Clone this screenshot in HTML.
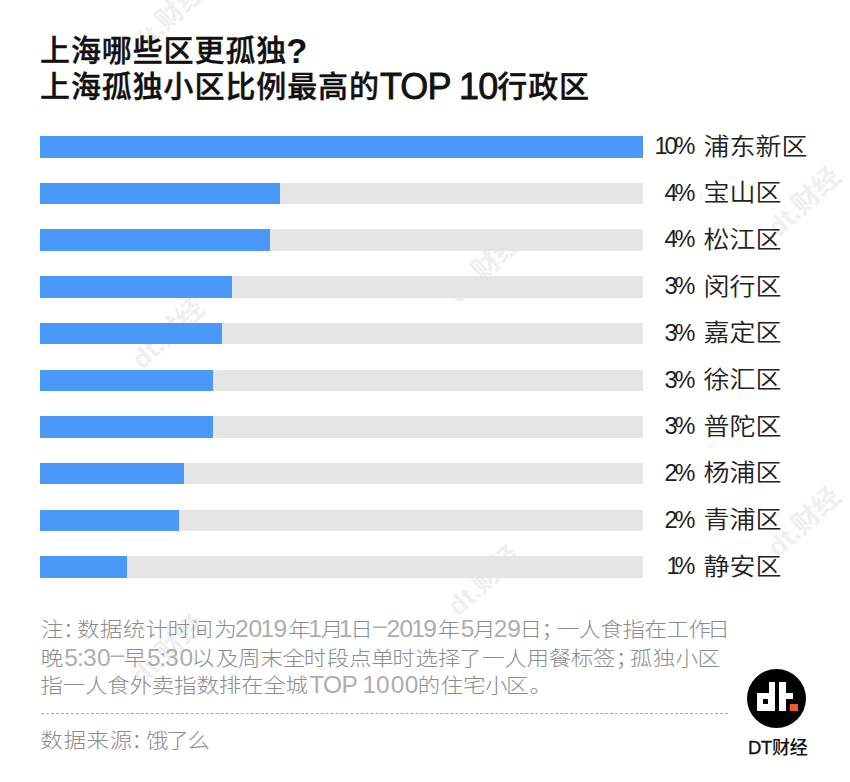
<!DOCTYPE html>
<html lang="zh-CN">
<head>
<meta charset="utf-8">
<title>上海哪些区更孤独?</title>
<style>
html,body{margin:0;padding:0;background:#fff;}
body{width:850px;height:782px;position:relative;overflow:hidden;}
.t{position:absolute;left:40px;font-family:"Liberation Sans","Noto Sans CJK SC",sans-serif;font-weight:500;font-size:30px;color:#111;white-space:nowrap;line-height:36px;height:36px;letter-spacing:0.9px;-webkit-text-stroke:0.4px #111;}
.t .l{font-size:36px;font-weight:400;-webkit-text-stroke:0.8px #111;letter-spacing:-0.9px;position:relative;top:1.5px;}
.t .q{font-size:34.5px;font-weight:700;-webkit-text-stroke:0;margin-left:-1px;position:relative;top:1.5px;}
.wm{position:absolute;width:140px;height:30px;margin:-15px 0 0 -70px;text-align:center;font-family:"Liberation Sans","Noto Sans CJK SC",sans-serif;font-weight:700;font-size:27px;line-height:30px;color:#efefef;white-space:nowrap;transform:rotate(-43deg);}
.row{position:absolute;left:40px;width:603px;height:21.5px;background:#e5e5e7;}
.row i{position:absolute;left:0;top:0;height:100%;background:#4a98f7;}
.lab{position:absolute;left:600px;width:220px;height:30px;font-family:"Liberation Sans","Noto Sans CJK SC",sans-serif;font-weight:300;color:#222;white-space:nowrap;line-height:30px;}
.lab b{font-weight:400;position:absolute;right:127.5px;top:0;font-size:23.5px;letter-spacing:-3px;color:#1e1e1e;}
.lab span{position:absolute;left:103.5px;top:0.5px;font-size:26px;font-weight:350;transform:scaleY(0.925);transform-origin:50% 50%;}
.fn{position:absolute;left:0;white-space:nowrap;line-height:27px;height:27px;font-family:"Liberation Sans","Noto Sans CJK SC",sans-serif;color:#8c8c8c;font-size:22.5px;font-weight:300;}
.fn .c{font-weight:300;font-size:22.5px;display:inline-block;transform:scaleY(0.92);transform-origin:50% 55%;}
.fn .l{font-weight:400;font-size:24.5px;color:#adadad;}
.dash{position:absolute;left:41px;top:713px;width:687px;height:0;border-top:1px dashed #aaa;}
.logo{position:absolute;left:747px;top:668.5px;width:59px;height:59px;border-radius:50%;background:#000;}
.logo div{position:absolute;background:#fff;}
.brand{position:absolute;left:748px;top:735.5px;font-family:"Liberation Sans","Noto Sans CJK SC",sans-serif;font-weight:500;font-size:18px;color:#111;white-space:nowrap;line-height:24px;letter-spacing:-0.2px;}
.brand .d{font-weight:400;font-size:18.4px;-webkit-text-stroke:0.35px #111;letter-spacing:-0.3px;}
</style>
</head>
<body>
<div class="wm" style="left:168px;top:18px">dt.财经</div>
<div class="wm" style="left:168px;top:334px">dt.财经</div>
<div class="wm" style="left:168px;top:650px">dt.财经</div>
<div class="wm" style="left:484px;top:268px">dt.财经</div>
<div class="wm" style="left:484px;top:581px">dt.财经</div>
<div class="wm" style="left:804px;top:202px">dt.财经</div>
<div class="wm" style="left:804px;top:522px">dt.财经</div>
<div class="t" style="top:31px">上海哪些区更孤独<span class="q">?</span></div>
<div class="t" style="top:67px">上海孤独小区比例最高的<span class="l" style="margin-left:0px">TOP 10</span>行政区</div>

<div class="row" style="top:136px"><i style="width:603px"></i></div>
<div class="row" style="top:182.7px"><i style="width:240px"></i></div>
<div class="row" style="top:229.4px"><i style="width:230px"></i></div>
<div class="row" style="top:276.1px"><i style="width:192px"></i></div>
<div class="row" style="top:322.8px"><i style="width:182px"></i></div>
<div class="row" style="top:369.5px"><i style="width:173px"></i></div>
<div class="row" style="top:416.2px"><i style="width:173px"></i></div>
<div class="row" style="top:462.9px"><i style="width:144px"></i></div>
<div class="row" style="top:509.6px"><i style="width:139px"></i></div>
<div class="row" style="top:556.3px"><i style="width:86.5px"></i></div>

<div class="lab" style="top:131px"><b>10%</b><span>浦东新区</span></div>
<div class="lab" style="top:177.7px"><b>4%</b><span>宝山区</span></div>
<div class="lab" style="top:224.4px"><b>4%</b><span>松江区</span></div>
<div class="lab" style="top:271.1px"><b>3%</b><span>闵行区</span></div>
<div class="lab" style="top:317.8px"><b>3%</b><span>嘉定区</span></div>
<div class="lab" style="top:364.5px"><b>3%</b><span>徐汇区</span></div>
<div class="lab" style="top:411.2px"><b>3%</b><span>普陀区</span></div>
<div class="lab" style="top:457.9px"><b>2%</b><span>杨浦区</span></div>
<div class="lab" style="top:504.6px"><b>2%</b><span>青浦区</span></div>
<div class="lab" style="top:551.3px"><b style="letter-spacing:-5px;right:129.5px">1%</b><span>静安区</span></div>

<div class="fn" style="top:614.5px"><span class="c" style="margin-left:41.00px">注</span><span class="c" style="margin-left:-0.72px">：</span><span class="c" style="margin-left:-8.42px">数</span><span class="c" style="margin-left:0.38px">据</span><span class="c" style="margin-left:0.38px">统</span><span class="c" style="margin-left:0.38px">计</span><span class="c" style="margin-left:-0.62px">时</span><span class="c" style="margin-left:0.38px">间</span><span class="c" style="margin-left:1.38px">为</span><span class="l" style="margin-left:-1.82px">2</span><span class="l" style="margin-left:-0.24px">0</span><span class="l" style="margin-left:-1.64px">1</span><span class="l" style="margin-left:-0.54px">9</span><span class="c" style="margin-left:1.26px">年</span><span class="l" style="margin-left:-2.67px">1</span><span class="c" style="margin-left:-1.09px">月</span><span class="l" style="margin-left:-4.47px">1</span><span class="c" style="margin-left:-2.39px">日</span><span class="l" style="margin-left:0.28px;position:relative;top:-3.5px">–</span><span class="l" style="margin-left:0.06px">2</span><span class="l" style="margin-left:-0.64px">0</span><span class="l" style="margin-left:-1.99px">1</span><span class="l" style="margin-left:-1.79px">9</span><span class="c" style="margin-left:1.06px">年</span><span class="l" style="margin-left:0.48px">5</span><span class="c" style="margin-left:-1.34px">月</span><span class="l" style="margin-left:-1.92px">2</span><span class="l" style="margin-left:-0.14px">9</span><span class="c" style="margin-left:-1.34px">日</span><span class="c" style="margin-left:-0.92px">；</span><span class="c" style="margin-left:-7.02px">一</span><span class="c" style="margin-left:-0.57px">人</span><span class="c" style="margin-left:-0.57px">食</span><span class="c" style="margin-left:-0.57px">指</span><span class="c" style="margin-left:-0.57px">在</span><span class="c" style="margin-left:-0.57px">工</span><span class="c" style="margin-left:-0.57px">作</span><span class="c" style="margin-left:-3.57px">日</span></div>
<div class="fn" style="top:643.5px"><span class="c" style="margin-left:40.70px">晚</span><span class="l" style="margin-left:1.08px">5</span><span class="l" style="margin-left:-0.94px">:</span><span class="l" style="margin-left:-0.81px">3</span><span class="l" style="margin-left:0.46px">0</span><span class="l" style="margin-left:0.06px;position:relative;top:-3.5px">–</span><span class="c" style="margin-left:-0.64px">早</span><span class="l" style="margin-left:0.78px">5</span><span class="l" style="margin-left:-1.34px">:</span><span class="l" style="margin-left:-1.11px">3</span><span class="l" style="margin-left:0.66px">0</span><span class="c" style="margin-left:-1.34px">以</span><span class="c" style="margin-left:1.66px">及</span><span class="c" style="margin-left:-0.34px">周</span><span class="c" style="margin-left:-0.34px">末</span><span class="c" style="margin-left:-0.34px">全</span><span class="c" style="margin-left:-1.34px">时</span><span class="c" style="margin-left:0.66px">段</span><span class="c" style="margin-left:-0.34px">点</span><span class="c" style="margin-left:-0.34px">单</span><span class="c" style="margin-left:-1.34px">时</span><span class="c" style="margin-left:0.66px">选</span><span class="c" style="margin-left:-0.34px">择</span><span class="c" style="margin-left:-1.34px">了</span><span class="c" style="margin-left:0.66px">一</span><span class="c" style="margin-left:-0.34px">人</span><span class="c" style="margin-left:-0.34px">用</span><span class="c" style="margin-left:-0.34px">餐</span><span class="c" style="margin-left:-0.34px">标</span><span class="c" style="margin-left:-0.34px">签</span><span class="c" style="margin-left:-0.02px">；</span><span class="c" style="margin-left:-8.32px">孤</span><span class="c" style="margin-left:0.42px">独</span><span class="c" style="margin-left:0.42px">小</span><span class="c" style="margin-left:-0.58px">区</span></div>
<div class="fn" style="top:671px"><span class="c" style="margin-left:40.30px">指</span><span class="c" style="margin-left:-0.23px">一</span><span class="c" style="margin-left:-0.23px">人</span><span class="c" style="margin-left:-0.23px">食</span><span class="c" style="margin-left:-0.23px">外</span><span class="c" style="margin-left:-0.23px">卖</span><span class="c" style="margin-left:-0.23px">指</span><span class="c" style="margin-left:-0.23px">数</span><span class="c" style="margin-left:-0.23px">排</span><span class="c" style="margin-left:-0.23px">在</span><span class="c" style="margin-left:-0.23px">全</span><span class="c" style="margin-left:-0.23px">城</span><span class="l" style="margin-left:1.18px">T</span><span class="l" style="margin-left:-1.13px">O</span><span class="l" style="margin-left:-0.76px">P</span><span class="l" style="margin-left:4.86px">1</span><span class="l" style="margin-left:-0.24px">0</span><span class="l" style="margin-left:1.16px">0</span><span class="l" style="margin-left:0.36px">0</span><span class="c" style="margin-left:-0.64px">的</span><span class="c" style="margin-left:0.51px">住</span><span class="c" style="margin-left:-0.49px">宅</span><span class="c" style="margin-left:-0.49px">小</span><span class="c" style="margin-left:-1.49px">区</span><span class="c" style="margin-left:1.08px">。</span></div>
<div class="fn" style="top:727px"><span class="c" style="margin-left:40.30px">数</span><span class="c" style="margin-left:0.62px">据</span><span class="c" style="margin-left:0.62px">来</span><span class="c" style="margin-left:0.62px">源</span><span class="c" style="margin-left:-0.92px">：</span><span class="c" style="margin-left:-7.72px">饿</span><span class="c" style="margin-left:-2.37px">了</span><span class="c" style="margin-left:-1.37px">么</span></div>
<div class="dash"></div>


<div class="logo">
  <div style="left:10px;top:24px;width:18px;height:18px;"></div>
  <div style="left:21.5px;top:13.5px;width:6.5px;height:12px;"></div>
  <div style="left:15.5px;top:30px;width:5.5px;height:5px;background:#000"></div>
  <div style="left:31.5px;top:13.5px;width:7.5px;height:28.5px;"></div>
  <div style="left:31.5px;top:24px;width:14.5px;height:6.5px;"></div>
  <div style="left:43px;top:35.5px;width:7.5px;height:7px;background:#f05a28"></div>
</div>
<div class="brand"><span class="d">DT</span>财经</div>

</body>
</html>
